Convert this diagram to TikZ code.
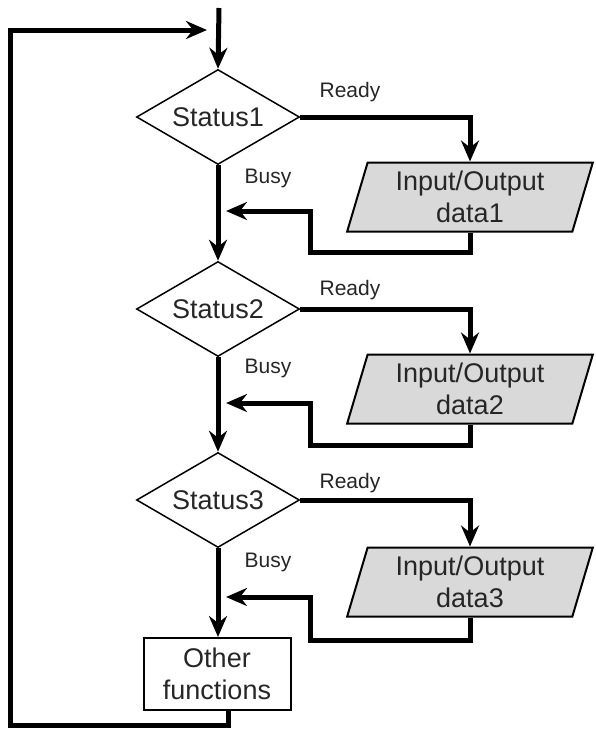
\documentclass[tikz,border=0pt]{standalone}
\usepackage{fontspec}
\setmainfont{Liberation Sans}
\usetikzlibrary{arrows.meta,shapes.geometric,positioning}

\tikzset{
	flow/.style={line width=5pt, -{Stealth[length=21pt,width=18pt,inset=7pt]}},
	wire/.style={line width=5pt},
	status/.style={diamond, draw, line width=1.5pt, aspect=1.72, minimum width=163pt, minimum height=95pt, inner sep=0pt, font=\fontsize{27}{32}\selectfont, text=black!85},
	iodata/.style={trapezium, trapezium left angle=74, trapezium right angle=106, trapezium stretches=true, draw, line width=2pt, fill=black!15, minimum width=246pt, minimum height=69pt, inner sep=0pt, align=center, font=\fontsize{27}{32}\selectfont, text=black!85},
	endbox/.style={rectangle, draw, line width=2pt, minimum width=147pt, minimum height=72pt, inner sep=0pt, align=center, font=\fontsize{27}{32}\selectfont, text=black!85},
	tag/.style={font=\fontsize{21}{24}\selectfont, text=black!85}
}

\begin{document}
\begin{tikzpicture}[x=1pt,y=1pt]
		%%%%% START %%%%%
		\useasboundingbox (0,0) rectangle (595,-729);
		
		% decisions
		\node[status] (s1) at (218,-117) {Status1};
		\node[status] (s2) at (218,-309) {Status2};
		\node[status] (s3) at (218,-500) {Status3};
		
		% data blocks
		\node[iodata] (io1) at (470,-197) {Input/Output\\data1};
		\node[iodata] (io2) at (470,-389) {Input/Output\\data2};
		\node[iodata] (io3) at (470,-582) {Input/Output\\data3};
		
		\node[endbox] (other) at (217,-674) {Other\\functions};
		
		% labels
		\node[tag] (r1) at (350,-92) {Ready};
		\node[tag] (r2) at (350,-290) {Ready};
		\node[tag] (r3) at (350,-483) {Ready};
		\node[tag] (b1) at (268,-178) {Busy};
		\node[tag] (b2) at (268,-368) {Busy};
		\node[tag] (b3) at (268,-562) {Busy};
		
		% free ends
		\coordinate (top) at (219,-8);
		\coordinate (in1) at (226,-211);
		\coordinate (in2) at (226,-403);
		\coordinate (in3) at (226,-597);
		\coordinate (loop) at (207,-30);
		
		% main column
		\draw[flow] (top) -- (s1.north);
		\draw[flow] (s1.south) -- (s2.north);
		\draw[flow] (s2.south) -- (s3.north);
		\draw[flow] (s3.south) -- (s3.south |- other.north);
		
		% ready branches
		\draw[flow] (s1.east) -| (io1.north);
		\draw[flow] (s2.east) -| (io2.north);
		\draw[flow] (s3.east) -| (io3.north);
		
		% back to the column
		\draw[flow] (io1.south) -- ++(0,-20) -| (310,-211) -- (in1);
		\draw[flow] (io2.south) -- ++(0,-21) -| (310,-403) -- (in2);
		\draw[flow] (io3.south) -- ++(0,-23) -| (310,-597) -- (in3);
		
		% outer loop
		\draw[flow] ([xshift=11pt]other.south) |- (10,-725) |- (loop);
		
		%%%%% END %%%%%
\end{tikzpicture}
\end{document}
